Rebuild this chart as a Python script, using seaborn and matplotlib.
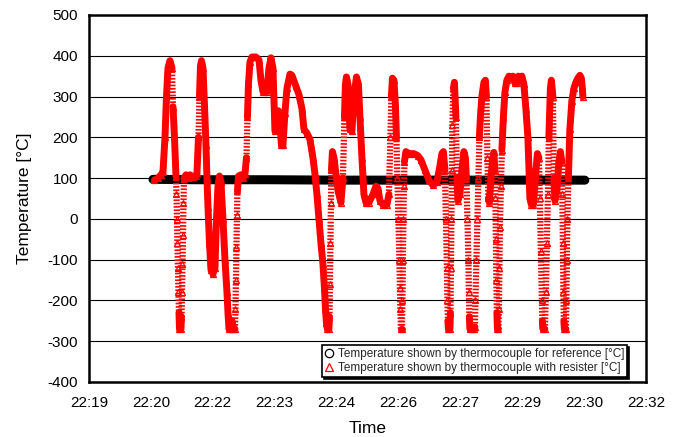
import numpy as np
import pandas as pd
import matplotlib
matplotlib.use("Agg")
import matplotlib.pyplot as plt
from matplotlib.lines import Line2D
import seaborn as sns

# Time axis: seconds after 22:19:00
x_tick_labels = ["22:19", "22:20", "22:22", "22:23", "22:24",
                 "22:26", "22:27", "22:29", "22:30", "22:32"]
x_end = 780
y_ticks = list(range(-400, 501, 100))

# Reference thermocouple
ref_t = [89.6, 150, 250, 350, 450, 550, 650, 694.4]
ref_v = [97, 96, 96, 95, 95, 95, 95, 95]

# Thermocouple with resister
res_t = [91.7, 96.6, 100.8, 103.6, 106.4, 108.5, 110.6, 113.4, 116.2, 117.6,
         119.7, 121.8, 122.5, 123.2, 123.9, 124.6, 125.3, 126.0, 126.7, 128.8,
         129.5, 130.2, 130.9, 131.6, 132.3, 133.0, 135.8, 138.6, 141.4, 145.6,
         149.8, 151.2, 153.3, 154.7, 156.1, 157.5, 159.6, 161.7, 163.8, 165.2,
         166.6, 168.7, 170.8, 173.6, 176.4, 178.5, 180.6, 182.7, 184.8, 187.6,
         190.4, 193.2, 194.6, 196.0, 198.8, 200.2, 202.3, 204.4, 205.1, 205.8,
         206.5, 207.2, 207.9, 209.3, 212.8, 215.6, 218.4, 220.5, 221.9, 223.3,
         225.4, 228.2, 233.8, 238.0, 240.8, 243.6, 249.2, 252.0, 254.8, 257.6,
         260.4, 263.2, 265.3, 267.4, 269.5, 271.6, 274.4, 277.2, 281.4, 284.2,
         289.8, 294.0, 298.2, 301.0, 305.2, 309.4, 313.6, 316.4, 319.2, 322.0,
         324.8, 327.6, 329.7, 331.1, 332.5, 333.9, 336.0, 336.7, 337.4, 338.1,
         338.8, 339.5, 340.9, 343.0, 345.8, 348.6, 352.8, 355.6, 357.7, 359.1,
         360.5, 362.6, 365.4, 368.2, 371.0, 374.5, 377.3, 379.4, 382.2, 385.0,
         387.8, 392.0, 397.6, 401.8, 404.6, 407.4, 411.6, 417.2, 420.0, 422.1,
         423.5, 424.9, 427.0, 429.1, 430.5, 431.9, 433.3, 434.7, 435.4, 436.1,
         436.8, 438.2, 438.9, 439.6, 440.3, 441.0, 441.7, 443.8, 448.0, 455.0,
         460.6, 464.8, 470.4, 476.0, 481.6, 487.2, 491.4, 494.2, 496.3, 498.4,
         499.8, 501.2, 501.9, 502.6, 503.3, 505.4, 506.1, 506.8, 507.5, 508.2,
         508.9, 510.3, 511.7, 513.8, 515.2, 516.6, 519.4, 522.2, 525.0, 527.1,
         528.5, 529.9, 531.3, 532.0, 532.7, 533.4, 536.2, 539.0, 540.4, 541.1,
         542.5, 543.9, 545.3, 546.7, 548.1, 550.2, 553.0, 555.1, 556.5, 557.9,
         559.3, 560.7, 562.8, 565.6, 567.0, 568.4, 569.1, 569.8, 570.5, 571.2,
         571.9, 573.3, 574.0, 574.7, 575.4, 576.8, 578.2, 580.3, 582.4, 585.2,
         588.0, 590.8, 593.6, 596.4, 599.2, 601.3, 603.4, 606.2, 609.0, 611.8,
         614.6, 616.0, 617.4, 619.5, 622.3, 625.1, 627.9, 630.0, 631.4, 632.8,
         634.2, 634.9, 635.6, 638.4, 639.8, 641.2, 642.6, 644.0, 646.1, 647.5,
         649.6, 651.0, 652.4, 655.2, 658.0, 660.1, 662.2, 662.9, 663.6, 664.3,
         665.0, 665.7, 667.8, 668.5, 669.2, 669.9, 671.3, 673.4, 676.2, 679.0,
         681.8, 684.6, 687.4, 689.5, 690.9, 691.6]
res_v = [95, 100, 108, 115, 200, 300, 370, 388, 370, 275,
         200, 105, 60, 0, -60, -120, -180, -230, -270, -270,
         -240, -180, -110, -40, 40, 100, 108, 100, 108, 103,
         105, 112, 200, 300, 375, 388, 370, 280, 180, 100,
         30, -60, -125, -135, -120, 0, 80, 105, 90, 0,
         -100, -180, -230, -270, -270, -250, -270, -270, -220, -150,
         -70, 10, 70, 105, 108, 100, 110, 150, 250, 330,
         385, 397, 397, 390, 340, 312, 312, 370, 395, 370,
         215, 220, 265, 230, 180, 180, 260, 320, 355, 352,
         325, 305, 270, 220, 210, 195, 150, 110, 60, 0,
         -60, -110, -170, -220, -255, -270, -270, -240, -160, -60,
         40, 120, 165, 150, 110, 70, 40, 100, 250, 330,
         348, 330, 220, 215, 300, 348, 330, 250, 150, 60,
         40, 40, 60, 80, 75, 45, 35, 35, 60, 200,
         300, 345, 340, 280, 200, 100, 0, -100, -170, -220,
         -270, -270, -200, -100, 0, 80, 140, 165, 160, 160,
         155, 145, 120, 95, 83, 90, 130, 160, 165, 120,
         0, -120, -200, -250, -270, -270, -230, -120, 0, 120,
         230, 320, 335, 250, 100, 45, 60, 120, 165, 150,
         100, 0, -100, -180, -240, -270, -270, -270, -265, -200,
         -100, 0, 100, 200, 250, 300, 335, 340, 300, 150,
         50, 40, 100, 150, 163, 120, 50, -50, -150, -230,
         -270, -270, -220, -120, -20, 80, 170, 250, 310, 340,
         350, 345, 350, 333, 333, 350, 345, 350, 330, 270,
         200, 130, 50, 35, 35, 100, 160, 150, 50, -80,
         -200, -250, -270, -270, -180, -60, 60, 200, 320, 340,
         300, 100, 45, 70, 140, 165, 140, 60, -60, -180,
         -250, -270, -270, -200, -100, 0, 100, 220, 290, 320,
         335, 345, 352, 345, 320, 300]

label_ref = "Temperature shown by thermocouple for reference [°C]"
label_res = "Temperature shown by thermocouple with resister [°C]"

sns.set_style("white")
plt.rcParams["font.family"] = ["Liberation Sans", "DejaVu Sans"]
plt.rcParams["lines.scale_dashes"] = False

fig = plt.figure(figsize=(6.81, 4.37), dpi=100)
ax = fig.add_axes([0.1307, 0.1259, 0.8179, 0.8398])
ax.set_xlim(0, x_end)
ax.set_ylim(-400, 500)

# horizontal grid
ax.set_axisbelow(True)
ax.yaxis.grid(True, color="black", lw=0.8)
ax.xaxis.grid(False)

# reference thermocouple: dense circles merge into a thick black band
sns.lineplot(x=ref_t, y=ref_v, color="black", lw=6.5, solid_capstyle="round",
             estimator=None, sort=False, legend=False, ax=ax, zorder=3)

# split the resister curve into slow parts (solid band) and fast parts (sparse triangles)
t = np.asarray(res_t, float)
v = np.asarray(res_v, float)
disp = ax.transData.transform(np.column_stack([t, v]))
dx = np.maximum(np.abs(np.diff(disp[:, 0])), 1e-6)
dy = np.abs(np.diff(disp[:, 1]))
steep = (dy / dx) > 34

rows = []
run = 0
start = 0
for i in range(1, len(steep) + 1):
    if i == len(steep) or steep[i] != steep[start]:
        for j in range(start, i + 1):
            rows.append((run, bool(steep[start]), t[j], v[j]))
        run += 1
        start = i
df = pd.DataFrame(rows, columns=["run", "steep", "t", "v"])

sns.lineplot(data=df[~df["steep"]], x="t", y="v", units="run", estimator=None,
             sort=False, color="red", lw=5, solid_capstyle="round",
             solid_joinstyle="round", legend=False, ax=ax, zorder=4)
sns.lineplot(data=df[df["steep"]], x="t", y="v", units="run", estimator=None,
             sort=False, color="red", lw=4.5, linestyle=(0, (1.2, 1.2)),
             dash_capstyle="butt", legend=False, ax=ax, zorder=4)
sns.lineplot(x=t, y=v, estimator=None, sort=False, color="red", linestyle="none",
             marker="^", markersize=4.5, markerfacecolor="none",
             markeredgecolor="red", markeredgewidth=0.9, legend=False, ax=ax,
             zorder=5)

# axes styling
for s in ax.spines.values():
    s.set_color("black")
    s.set_linewidth(1.8)
    s.set_visible(True)

ax.set_xticks(np.linspace(0, x_end, len(x_tick_labels)))
ax.set_xticklabels(x_tick_labels)
ax.set_yticks(y_ticks)
ax.set_yticklabels([str(y) for y in y_ticks])
ax.tick_params(axis="x", direction="in", length=5, width=1, color="black",
               pad=10, labelsize=11, labelcolor="black")
ax.tick_params(axis="y", direction="in", length=4, width=1, color="black",
               pad=8, labelsize=11, labelcolor="black")
ax.set_xlabel("Time", fontsize=12.5, labelpad=8, color="black")
ax.set_ylabel("Temperature [°C]", fontsize=12.5, labelpad=11, color="black")

handles = [
    Line2D([], [], ls="none", marker="o", ms=6, mfc="none", mec="black", mew=0.9),
    Line2D([], [], ls="none", marker="^", ms=6, mfc="none", mec="red", mew=0.9),
]
leg = ax.legend(handles, [label_ref, label_res], loc="lower right",
                bbox_to_anchor=(0.966, 0.0136), borderaxespad=0,
                frameon=True, fancybox=False, framealpha=1,
                edgecolor="black", borderpad=0.25, handlelength=0.8,
                handletextpad=0.3, labelspacing=0.15,
                prop={"family": ["Liberation Sans Narrow", "Liberation Sans"],
                      "size": 8.5},
                shadow={"color": "black", "alpha": 1, "ox": 1.5, "oy": -1.5})
leg.get_frame().set_linewidth(1.2)
leg.set_zorder(10)

fig.savefig("out.png", dpi=100, facecolor="white")
